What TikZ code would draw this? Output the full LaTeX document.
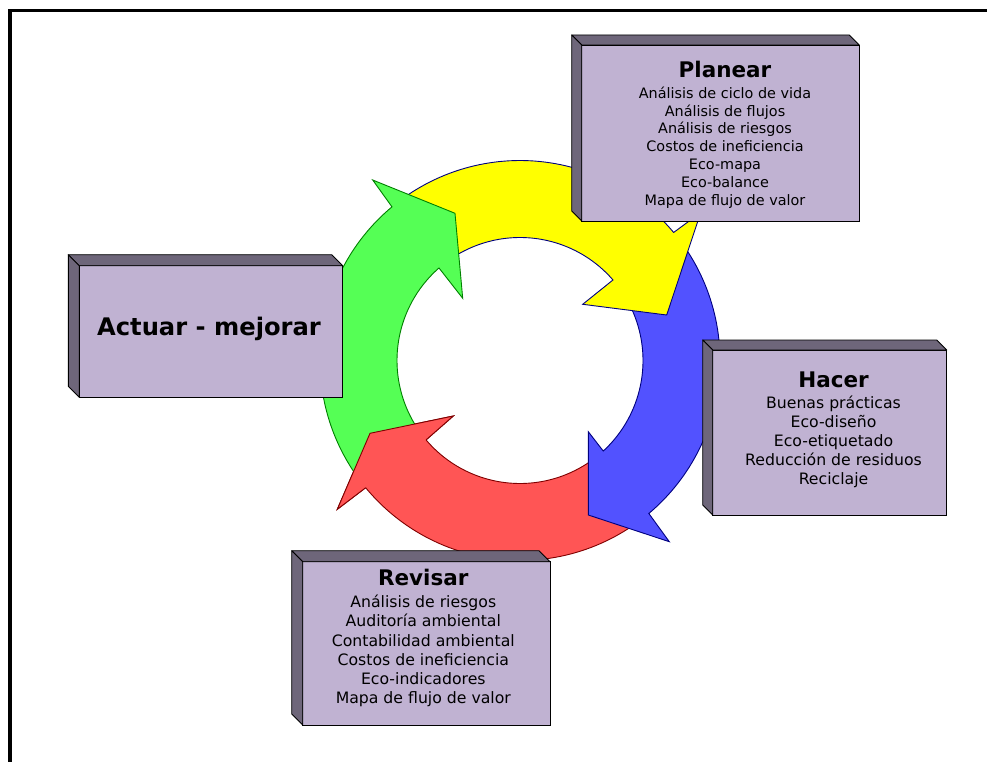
\documentclass[tikz,border=0pt]{standalone}
\usepackage{fontspec}
\setmainfont{DejaVu Sans}
\usetikzlibrary{calc}

\definecolor{facecol}{RGB}{192,178,210}
\definecolor{sidecol}{RGB}{110,102,122}
\definecolor{yelfill}{RGB}{255,255,0}
\definecolor{blufill}{RGB}{82,82,255}
\definecolor{redfill}{RGB}{255,85,85}
\definecolor{grnfill}{RGB}{85,255,85}
\definecolor{bluline}{RGB}{0,0,128}
\definecolor{redline}{RGB}{128,0,0}
\definecolor{grnline}{RGB}{0,128,0}

% 3-D box: name, left, top, right, bottom (front face), depth
\newcommand\solidbox[6]{%
  \node[boxface, minimum width={(#4-#2)*1pt}, minimum height={(#5-#3)*1pt}]
    (#1) at ({(#2+#4)/2},{(#3+#5)/2}) {};
  \filldraw[boxside] (#1.north west) -- ++(-#6,-#6)
    -- ($(#1.north east)+(-#6,-#6)$) -- (#1.north east) -- cycle;
  \filldraw[boxside] (#1.north west) -- ++(-#6,-#6)
    -- ($(#1.south west)+(-#6,-#6)$) -- (#1.south west) -- cycle;
}

\begin{document}
\begin{tikzpicture}[x=1pt,y=-1pt,
  band/.style={line width=0.9pt, line join=miter},
  boxface/.style={draw=black, line width=0.9pt, fill=facecol, rectangle,
    inner sep=0pt, outer sep=0pt},
  boxside/.style={draw=black, line width=0.9pt, fill=sidecol, line join=round},
  boxtitle/.style={font=\fontsize{21.5}{24}\selectfont\bfseries, anchor=base, inner sep=0pt},
  itemsmall/.style={font=\fontsize{14.4}{17}\selectfont, anchor=base, inner sep=0pt},
  itemlarge/.style={font=\fontsize{15.7}{19}\selectfont, anchor=base, inner sep=0pt}]

\useasboundingbox (0,0) rectangle (987,762);
\fill[white] (0,0) rectangle (987,762);

% frame
\draw[line width=3.5pt] (10.2,770) -- (10.2,10.7) -- (995,10.7);

% cycle arrows (centre 520,360.5; radii 200 and 123)
\coordinate (c) at (520,360.5);
% red: bottom
\filldraw[band, fill=redfill, draw=redline]
  plot[domain=53:140.5, samples=60] ({520+200*cos(\x)},{360.5+200*sin(\x)})
  -- (337.3,509.3) -- (370,433.3) -- (453.3,416)
  -- plot[domain=139.8:53, samples=60] ({520+123*cos(\x)},{360.5+123*sin(\x)}) -- cycle;
% blue: right
\filldraw[band, fill=blufill, draw=bluline]
  plot[domain=323:409.9, samples=60] ({520+200*cos(\x)},{360.5+200*sin(\x)})
  -- (669.3,541.7) -- (588.3,515) -- (588.3,431.7)
  -- plot[domain=407.4:323, samples=60] ({520+123*cos(\x)},{360.5+123*sin(\x)}) -- cycle;
% yellow: top
\filldraw[band, fill=yelfill, draw=bluline]
  plot[domain=233:320.2, samples=60] ({520+200*cos(\x)},{360.5+200*sin(\x)})
  -- (700.7,212.5) -- (666.7,315) -- (582.7,304.3)
  -- plot[domain=319.1:233, samples=60] ({520+123*cos(\x)},{360.5+123*sin(\x)}) -- cycle;
% green: left
\filldraw[band, fill=grnfill, draw=grnline]
  plot[domain=143:230.2, samples=60] ({520+200*cos(\x)},{360.5+200*sin(\x)})
  -- (372.7,180) -- (455,213.3) -- (462.7,298.3)
  -- plot[domain=228.8:143, samples=60] ({520+123*cos(\x)},{360.5+123*sin(\x)}) -- cycle;
% red head again, over the green tail
\coordinate (rin) at ({520+123*cos(139.8)},{360.5+123*sin(139.8)});
\coordinate (rout) at ({520+200*cos(140.5)},{360.5+200*sin(140.5)});
\fill[redfill] (rin) -- (453.3,416) -- (370,433.3) -- (337.3,509.3) -- (rout) -- cycle;
\draw[band, draw=redline] (rin) -- (453.3,416) -- (370,433.3) -- (337.3,509.3) -- (rout);

% boxes
\solidbox{planear}{581.7}{45}{859.3}{221}{10}
\solidbox{actuar}{79.3}{265.7}{342.7}{397.3}{11}
\solidbox{hacer}{712.7}{350}{946.7}{515}{10}
\solidbox{revisar}{302.7}{561.7}{550}{725}{11}

% texts
\node[boxtitle] (planear-title) at (725,78) {Planear};
\foreach \t [count=\i] in {Análisis de ciclo de vida, Análisis de flujos,
  Análisis de riesgos, Costos de ineficiencia, Eco-mapa, Eco-balance,
  Mapa de flujo de valor}
  \node[itemsmall] (planear-\i) at (725,{98.3+(\i-1)*17.8}) {\t};

\node[font=\fontsize{24.2}{28}\selectfont\bfseries, anchor=base, inner sep=0pt]
  (actuar-title) at (209,335.7) {Actuar - mejorar};

\node[boxtitle] (hacer-title) at (833.5,387.3) {Hacer};
\foreach \t [count=\i] in {Buenas prácticas, Eco-diseño, Eco-etiquetado,
  Reducción de residuos, Reciclaje}
  \node[itemlarge] (hacer-\i) at (833.5,{408.3+(\i-1)*19}) {\t};

\node[boxtitle] (revisar-title) at (423.3,585) {Revisar};
\foreach \t [count=\i] in {Análisis de riesgos, Auditoría ambiental,
  Contabilidad ambiental, Costos de ineficiencia, Eco-indicadores,
  Mapa de flujo de valor}
  \node[itemlarge] (revisar-\i) at (423.3,{607.7+(\i-1)*19.25}) {\t};
\end{tikzpicture}
\end{document}
